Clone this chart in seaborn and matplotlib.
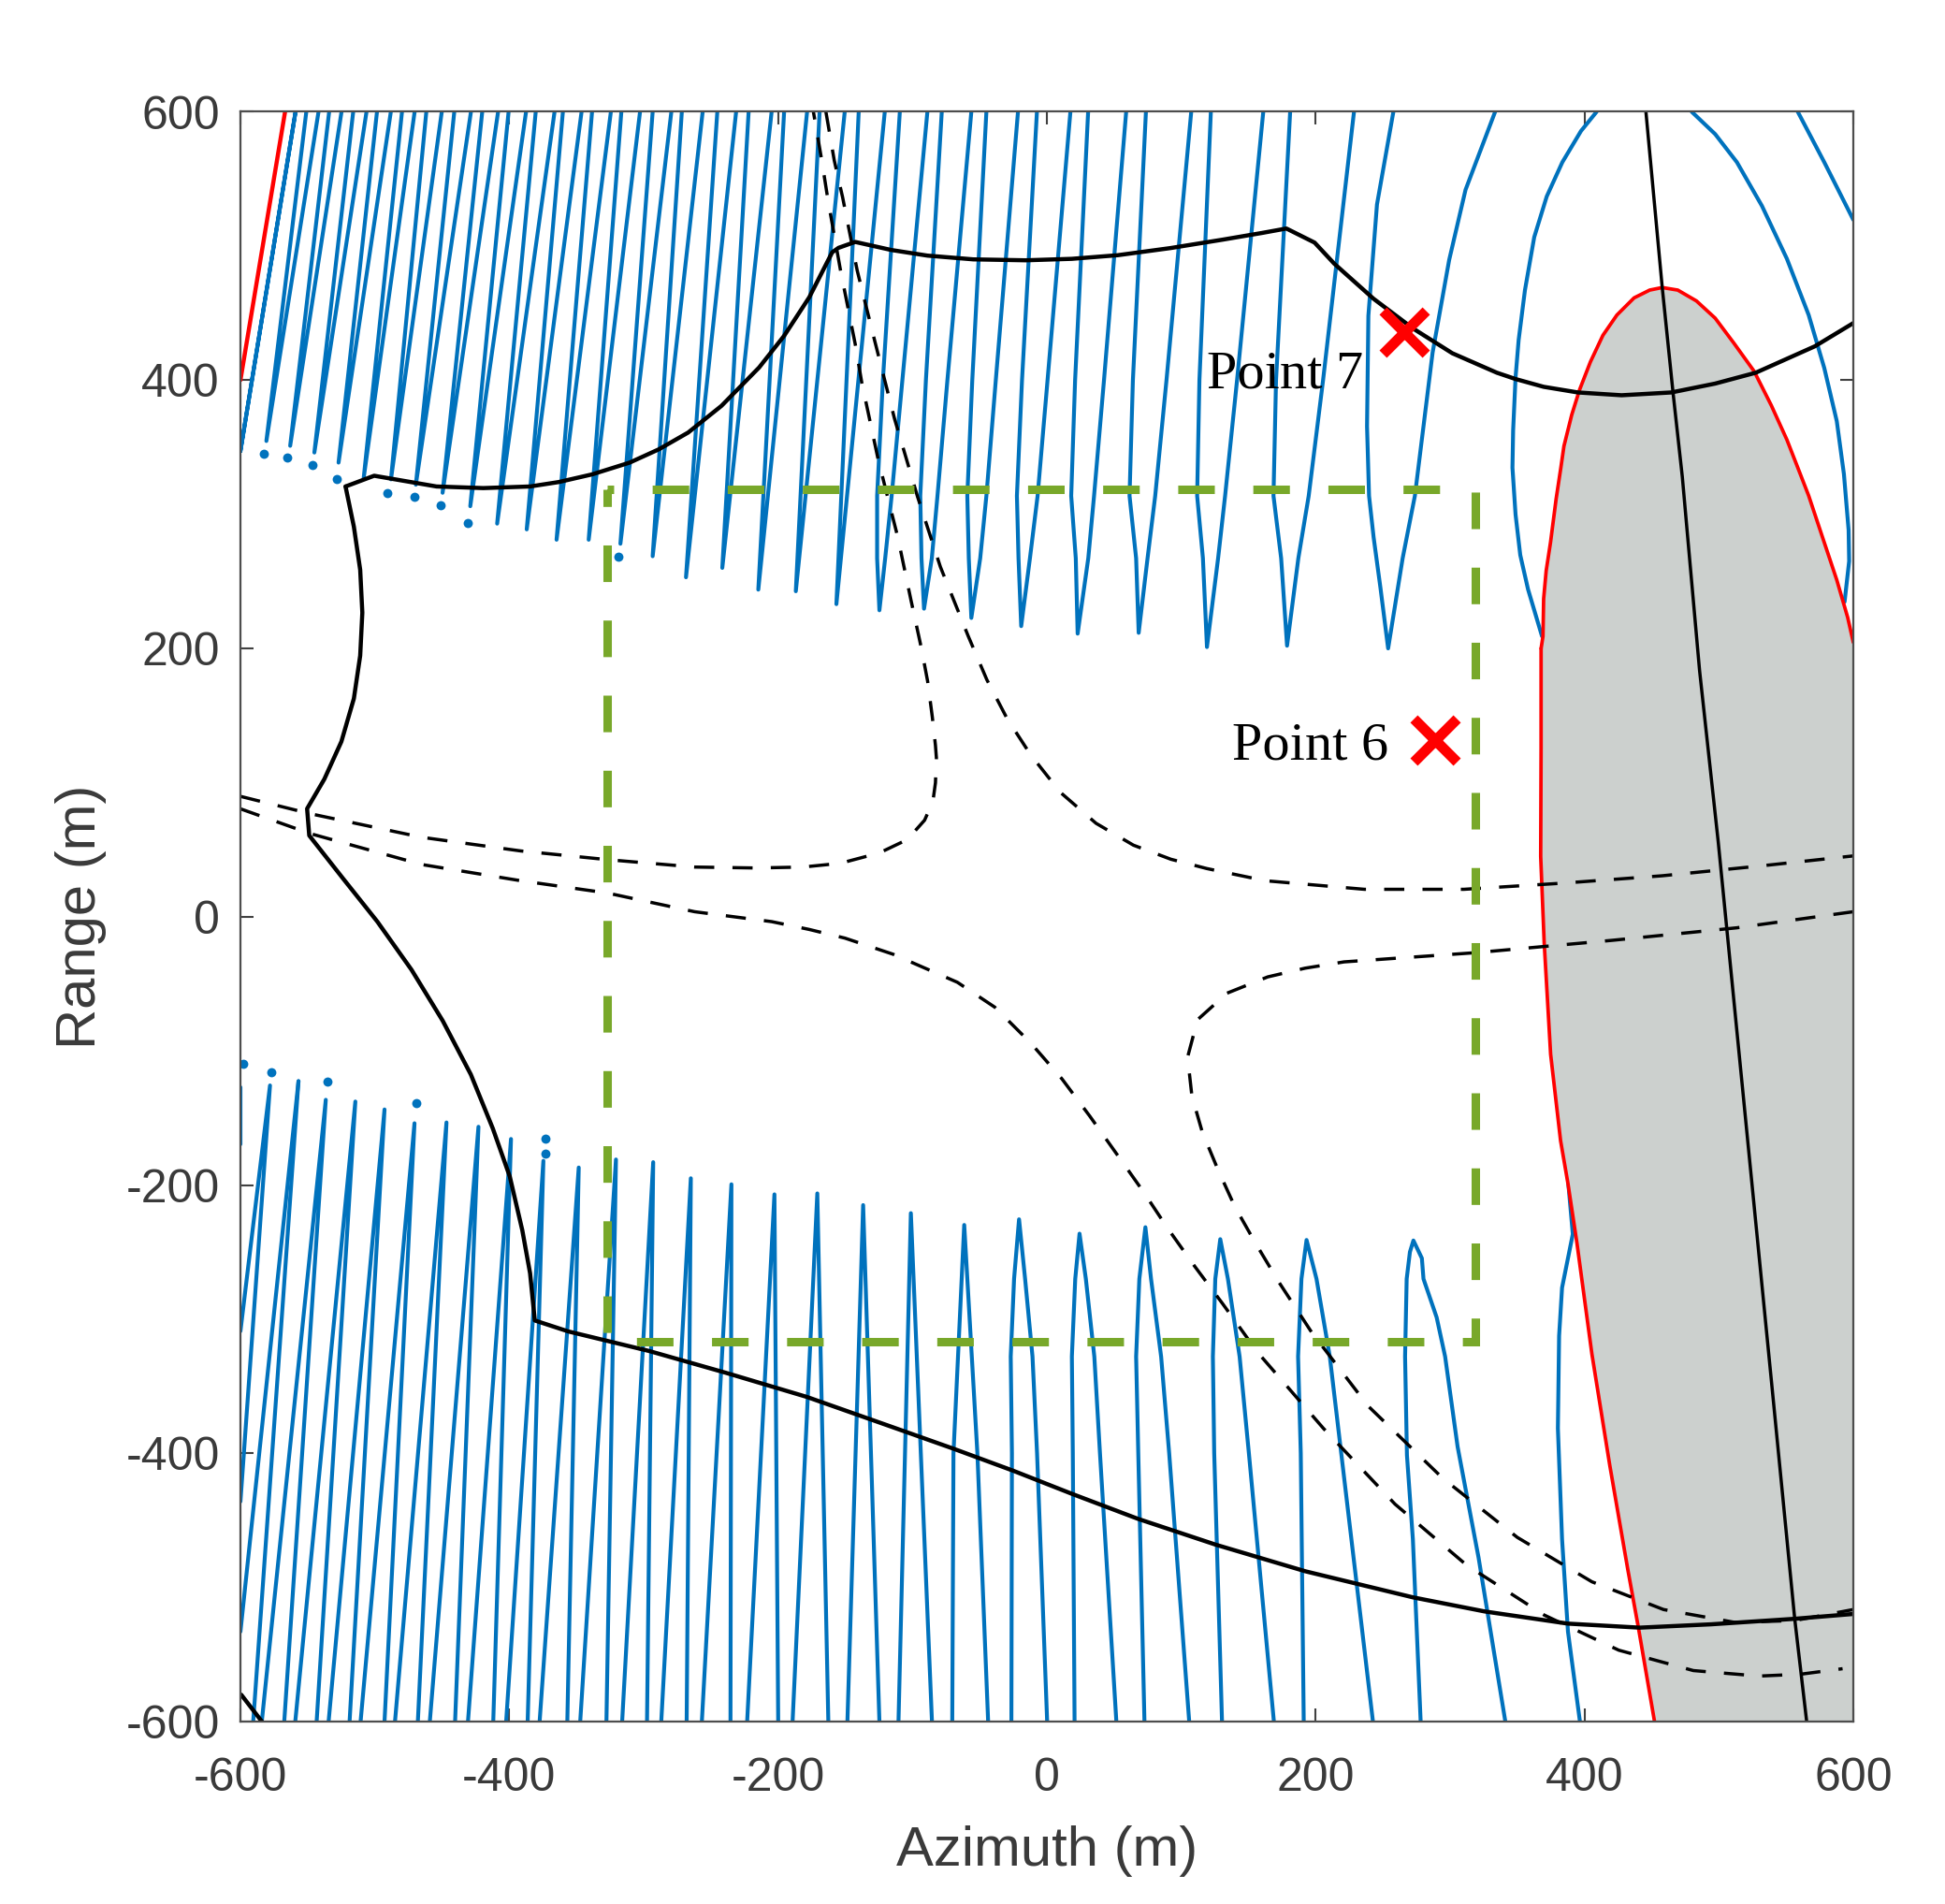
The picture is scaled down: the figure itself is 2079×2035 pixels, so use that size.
import matplotlib
matplotlib.use("Agg")
import matplotlib.pyplot as plt
import pandas as pd
import seaborn as sns

sns.set_style("white")
plt.rcParams['font.family'] = ['Liberation Sans', 'DejaVu Sans']
plt.rcParams['axes.unicode_minus'] = False

BLUE = '#0072BD'
GREEN = '#78A82A'
GREY = '#CCD0CE'
TEXT = '#3a3a3a'

# fringes opening upwards: apex, x at y=267, 314 and 400 (where read), x at y=600
top_apex_x = [-600, -580.7, -563, -545, -527, -508.3, -488, -469.5, -449.6, -429, -409, -387, -364.8, -340.9, -317.3,
              -293.3, -268.5, -241.5, -214.7, -186.8, -156.6, -124.6, -91.4, -56.2, -19.1, 22.9, 68.3, 119.1, 178.7]
top_apex_y = [347, 354.6, 351, 346, 338.5, 327, 326, 322, 316, 306, 293, 288.7, 281, 281, 278,
              268.7, 253, 260, 243.8, 242.6, 233, 228.4, 229.6, 222.7, 216.6, 211, 211.6, 201, 202]
top_left_x = [-559, -551, -534, -516.1, -498.4, -479.8, -461.7, -440.9, -420.1, -400.5, -380.3, -360.1, -338.4, -316.6, -293.3,
              -271.6, -245.2, -221.9, -195.5, -169.1, -140, -109.4, -78.2, -45, -7.4, 30.7, 73.7, 122, 181]
top_right_x = [-559, -541.9, -524.8, -506.2, -488.1, -470.4, -450.2, -428.5, -408.3, -387.5, -366.3, -346.2, -324.4, -302.7, -279.4,
               -256.1, -231.2, -204.8, -178.4, -150.4, -120.6, -88.9, -56.2, -21.5, 17.5, 59, 107.4, 161, 228.5]
top_left_mid = [None] * 21 + [-122, -90, -55.5, -18.5, 21, 64, 113.5, 170.5]
top_right_mid = [None] * 21 + [-107.5, -74, -38, 0.5, 42.5, 89, 141.5, 205.5]
top_left_low = [None] * 21 + [-126.3, -94.2, -59.2, -22.3, 18.1, 61.5, 111.8, 168.6]
top_right_low = [None] * 21 + [-115.5, -81.4, -45, -6.9, 35.1, 80.6, 132.6, 194.8]
top_left_tip = [None] * 21 + [-126.3, -93.3, -58.1, -21.1, 21.5, 66.4, 116.1, 174.3]
top_right_tip = [None] * 21 + [-120.3, -85.6, -49.6, -12.6, 30.8, 74.9, 127.4, 187.1]

# fringes opening downwards: apex, x at y=-270, -328 and -400 (where read), x at y=-600
bot_apex_x = [-556.8, -536.5, -514.5, -492.8, -470.5, -446.7, -422.9, -398.7, -374.6, -348.3, -320.6, -292.9, -264.9,
              -234.7, -202.7, -170.8, -136.7, -101.2, -61.5, -20.7, 24.3, 73.3, 129, 193.2]
bot_apex_y = [-122.6, -136.5, -137.8, -143.7, -154, -153.4, -156.6, -165.7, -182, -187, -181, -183, -195,
              -199.5, -207, -206.3, -215, -221, -229.8, -225.6, -236.3, -231.5, -240.4, -241]
bot_left_x = [None, -584.1, -559.2, -534.4, -510.6, -485, -459.1, -430.7, -402.3, -377.4, -347.2, -316, -286.9,
              -256.7, -223, -189.2, -148.4, -110.4, -70.4, -26.4, 20.6, 72.6, 130.3, 191.1]
bot_right_x = [-590.5, -567.4, -543.3, -518.8, -492.8, -468, -440.3, -411.9, -386.3, -356.8, -327.7, -297.5, -268,
               -235.4, -199.9, -162.6, -124.6, -85.5, -43.7, 0.2, 51.7, 105.9, 168.9, 242.6]
bot_left_mid = [None] * 18 + [-69.5, -26, 19.3, 68, 124.5, 188.9]
bot_right_mid = [None] * 18 + [-51.7, -7.3, 39.5, 91, 150.3, 219]
bot_left_low = [None] * 19 + [-26.9, 18.6, 66.4, 123.5, 186.9]
bot_right_low = [None] * 19 + [-10.7, 35.3, 85, 143.4, 210.5]
bot_left_tip = [None] * 19 + [-24.4, 21.1, 68.8, 125.3, 189.4]
bot_right_tip = [None] * 19 + [-16.2, 29, 77.5, 134.7, 200.6]

# larger curved fringes, read point by point
arc1_x = [257.8, 245.6, 239.2, 238.2, 239.7, 243.1, 248.2, 253.9, 264.7, 273.8, 287, 299.3, 311.5, 333.5]
arc1_y = [600, 530.9, 448, 365.5, 313.7, 282.8, 245, 200, 267.2, 313.7, 420.6, 489.5, 541.9, 600]
arc2_x = [368.4, 358, 352.2, 348.7, 346.4, 346.9, 348.7, 351, 355.7, 362.6, 371.9, 383.5, 397.4, 409]
arc2_y = [209, 244, 269.6, 299.8, 334.7, 362.5, 402, 429.9, 467.1, 506.6, 536.9, 562.4, 585.7, 600]
arc3_x = [479.8, 497.2, 513.4, 532, 550.6, 566.8, 578.4, 587.7, 593, 596.5, 596.9, 593.5]
arc3_y = [600, 583.4, 562.4, 529.9, 490.4, 448.5, 409, 369.4, 330, 288.2, 265, 234.7]
arc4_x = [558.7, 578.4, 600]
arc4_y = [600, 562.4, 519.5]
arc5_x = [278.1, 272.3, 267.9, 266.5, 267.7, 270.1, 272.7, 279, 280.2, 290, 296.3, 305.6, 321.2, 341.1]
arc5_y = [-600, -464, -401.5, -327.9, -270, -250, -241.4, -254.6, -270, -298.7, -327.9, -395.2, -477.9, -600]
arc6_x = [387, 391.3, 383.3, 381.1, 380.2, 383.3, 387.7, 396.6]
arc6_y = [-188, -236.6, -276.6, -312.5, -381.4, -464, -533, -600]
edge1_x = [-600, -578, -600]
edge1_y = [-309, -125.8, -436]
edge2_x = [-600, -556.8]
edge2_y = [-533, -122.6]
edge3_x = [-600, -600]
edge3_y = [-127, -170]

dot_x = [-582.9, -565.2, -546.6, -528.5, -490.6, -470.4, -450.8, -431, -319,
         -597.6, -577, -535.5, -469, -373.2, -373.2]
dot_y = [345.4, 342.2, 336.5, 326.5, 315.6, 312.8, 306.8, 293.6, 268.7,
         -109.6, -116, -122.6, -138.8, -165.4, -176.8]

# grey region outlined in red
red_x = [367.7, 367.7, 367.4, 370, 374.8, 382.2, 387.7, 394.4, 405.5, 418.8, 432.1, 440.1, 452.1]
red_y = [199.9, 125.5, 45, -19.4, -102.6, -167, -199, -243.5, -326, -409, -486, -530, -600]
red_up_x = [367.7, 369.1, 369.6, 371.5, 374.7, 378.9, 382.4, 384.7, 390.5, 396.3, 404.4, 413.7, 424.1, 436.9, 448.5, 457.8,
            469.4, 483.3, 497.2, 511.1, 526.2, 539, 550.6, 558.7, 566.8, 578.4, 587.7, 595.8, 600]
red_up_y = [199.9, 209, 237, 258, 278.9, 311.5, 334.7, 350.8, 374.1, 392.7, 413.6, 433.4, 448.5, 461.3, 467.1, 469,
            467.1, 459, 446.2, 427.6, 406.6, 381.1, 355.5, 334.7, 313.8, 278.9, 251, 223.1, 204.5]
red_corner_x = [-600, -566.8]
red_corner_y = [400, 600]

# solid black contours
upper_x = [-521.8, -500.5, -477.3, -454.1, -419.3, -384.5, -363.2, -338.4, -310.4, -288.7, -266.9, -242.1, -214.1,
           -195.5, -176.8, -159.7, -155, -142.6, -115.8, -88.9, -54.7, -15.7, 18.5, 52.7, 91.8, 130.8, 160.1, 178.2,
           199.2, 213.8, 243.1, 272.4, 301.7, 334.8, 348.7, 369.6, 395, 427.6, 464.7, 497.2, 527.4, 571.4, 600]
upper_y = [320.7, 328.7, 324.7, 320.7, 319.5, 320.7, 324, 329.7, 338.5, 348.4, 360.9, 380.8, 409.4,
           433, 461.7, 495.3, 498.6, 503, 497, 492.8, 490, 489.3, 490.4, 493.1, 498.4, 504.7, 509.7, 513,
           502.5, 486.8, 460.6, 438.5, 420, 405.5, 400.8, 395, 390.8, 388.7, 390.8, 397.4, 405.5, 425.2, 442.5]
lower_x = [-521.8, -515.6, -510.9, -509.3, -510.9, -515.6, -524.9, -537.6, -550.4, -548.8, -523.7, -498.2, -472.7, -449.5,
           -428.6, -412.3, -399.6, -390.3, -384.5, -381, -356, -295.8, -238.9, -178.6, -114.6, -69.5, -25.1, 19.3, 68.1,
           125.8, 192.4, 272.3, 325.6, 387.7, 441, 494.3, 556.4, 600]
lower_y = [320.7, 290.7, 258.6, 226.6, 194.6, 162.6, 130.5, 102.5, 80.5, 60.5, 28.5, -3.6, -39.6, -77.6,
           -117.6, -157.7, -193.7, -233.7, -265.8, -301, -309.2, -323.8, -340, -358, -380.6, -396.6, -413, -430.5, -449,
           -468.2, -488, -507.4, -517.9, -527, -530, -527.5, -523.4, -519.8]
corner_x = [-599.4, -584]
corner_y = [-580, -600]
thin_x = [445.7, 457.8, 465.9, 472.8, 485.6, 499.5, 540.9, 556.4, 565.3]
thin_y = [600, 469.4, 390.4, 327.6, 183.6, 55.7, -364.8, -523.4, -600]

# dashed black curves
dash1_x = [-600, -548.3, -465.2, -391.4, -326.8, -262.1, -216.3, -181.5, -153.7, -124.7, -103.8, -91, -84.8, -82.9, -82.2,
           -82.9, -85.2, -88.7, -93.3, -96.8, -101.1, -110.9, -125.5, -137.8, -142.6, -153.5, -162.8, -167.5, -173.7]
dash1_y = [89.7, 76.8, 59.2, 49, 42.5, 37, 36.3, 37, 39.8, 47.5, 57.5, 71.9, 85.9, 99.8, 118.4,
           127.7, 148.6, 175.4, 199.8, 216, 235.9, 282.8, 340.7, 398.6, 426.9, 481.6, 533.9, 563.8, 600]
dash2_x = [-164.4, -158.2, -152, -141.1, -128, -113.3, -96.2, -79.2, -58.5, -44.6, -29.5, -12.1, 9.9, 36.6, 64.4, 92.3, 118.9,
           162.5, 236.3, 310.2, 384, 457.9, 531.7, 600]
dash2_y = [600, 563.8, 536.4, 481.6, 428.9, 371, 313, 260.7, 209.1, 176.5, 147.5, 120.7, 92.8, 69.6, 53.3, 42.8, 35.9,
           26.8, 20.4, 20.4, 25, 30.5, 37.9, 45.3]
dash3_x = [-600, -548.3, -465.2, -391.4, -326.8, -262.1, -204.7, -176.9, -150.2, -114.4, -66.6, -38.7, -12, 11.2, 32, 51.8,
           71.5, 90, 109.8, 130.6, 156.9, 205.7, 259, 312.3, 370, 425.5, 481, 529.8, 560.9, 592]
dash3_y = [80.4, 62, 38.9, 26.8, 17.6, 3.7, -3.7, -9.5, -16, -28, -48.9, -67.5, -94.2, -120.9, -148.8, -176.7,
           -204.6, -232.5, -260.4, -288.3, -324.9, -381.4, -437.9, -483.4, -520.6, -546.8, -562, -566.1, -564.7, -560.6]
dash4_x = [600, 513.2, 420.9, 319.4, 221.1, 192.1, 164.3, 134.1, 112.1, 104.7, 107.9, 115.6, 127.2, 139.9, 155, 172.4, 196.9, 239,
           294.5, 350, 405.5, 458.8, 512, 556.4, 600]
dash4_y = [3.7, -8.3, -17.6, -26.8, -33.7, -38.4, -44.9, -57, -76.8, -104.7, -133.7, -160.5, -188.4, -216.3, -243, -272.1, -309.7, -364.8,
           -418.6, -462.7, -495.8, -516.5, -526.1, -524.7, -516.5]

box_x = [-326.8, 318.5, 318.5, -326.8, -326.8]
box_y = [318.9, 318.9, -317, -317, 318.9]

point_x = [289, 265.9]
point_y = [131.3, 435.4]
point_labels = ['Point 6', 'Point 7']
label_x = [137.6, 119]
label_y = [117.4, 394]

ticks = [-600, -400, -200, 0, 200, 400, 600]

# one long table for all the blue fringes
rows = []
fid = 0
for ax_, ay_, lt, lm, ll, lp, rp, rl, rm, rt in zip(top_apex_x, top_apex_y, top_left_x, top_left_mid, top_left_low,
                                                    top_left_tip, top_right_tip, top_right_low, top_right_mid,
                                                    top_right_x):
    pts = [(lt, 600), (lm, 400), (ll, 313.7), (lp, 267.2), (ax_, ay_), (rp, 267.2), (rl, 313.7), (rm, 400), (rt, 600)]
    rows += [(fid, p[0], p[1]) for p in pts if p[0] is not None]
    fid += 1
for ax_, ay_, lt, lm, ll, lp, rp, rl, rm, rt in zip(bot_apex_x, bot_apex_y, bot_left_x, bot_left_mid, bot_left_low,
                                                    bot_left_tip, bot_right_tip, bot_right_low, bot_right_mid,
                                                    bot_right_x):
    pts = [(lt, -600), (lm, -400), (ll, -327.9), (lp, -270), (ax_, ay_), (rp, -270), (rl, -327.9), (rm, -400), (rt, -600)]
    rows += [(fid, p[0], p[1]) for p in pts if p[0] is not None]
    fid += 1
for xs, ys in [(arc1_x, arc1_y), (arc2_x, arc2_y), (arc3_x, arc3_y), (arc4_x, arc4_y), (arc5_x, arc5_y),
               (arc6_x, arc6_y), (edge1_x, edge1_y), (edge2_x, edge2_y), (edge3_x, edge3_y)]:
    rows += [(fid, x, y) for x, y in zip(xs, ys)]
    fid += 1
blue_df = pd.DataFrame(rows, columns=['fringe', 'x', 'y'])

fig = plt.figure(figsize=(20.79, 20.35), dpi=100)
ax = fig.add_axes([257 / 2079, 1 - 1840 / 2035, (1981 - 257) / 2079, (1840 - 119.5) / 2035])


def draw(xs, ys, **kws):
    sns.lineplot(x=xs, y=ys, sort=False, estimator=None, ax=ax, legend=False, **kws)


sns.lineplot(data=blue_df, x='x', y='y', units='fringe', estimator=None, sort=False, color=BLUE,
             linewidth=3.0, ax=ax, legend=False, zorder=2)
sns.scatterplot(x=dot_x, y=dot_y, color=BLUE, s=50, linewidth=0, ax=ax, legend=False, zorder=2)

grey_x = red_up_x[::-1] + red_x + [600]
grey_y = red_up_y[::-1] + red_y + [-600]
ax.fill(grey_x, grey_y, color=GREY, lw=0, zorder=3)

draw(red_x, red_y, color='red', linewidth=2.7, zorder=4)
draw(red_up_x, red_up_y, color='red', linewidth=2.7, zorder=4)
draw(red_corner_x, red_corner_y, color='red', linewidth=3.2, zorder=4)

for xs, ys in [(upper_x, upper_y), (lower_x, lower_y), (corner_x, corner_y)]:
    draw(xs, ys, color='black', linewidth=3.2, zorder=5)
draw(thin_x, thin_y, color='black', linewidth=2.5, zorder=5)
for xs, ys in [(dash1_x, dash1_y), (dash2_x, dash2_y), (dash3_x, dash3_y), (dash4_x, dash4_y)]:
    draw(xs, ys, color='black', linewidth=2.5, linestyle=(0, (6.2, 5.6)), zorder=5)

draw(box_x, box_y, color=GREEN, linewidth=6.5, linestyle=(3.56, (4.33, 4.56)), zorder=6,
     dash_capstyle='butt', dash_joinstyle='miter')

sns.scatterplot(x=point_x, y=point_y, marker='x', color='red', s=1100, linewidth=8, ax=ax, legend=False,
                zorder=7, clip_on=False)
for name, x, y in zip(point_labels, label_x, label_y):
    ax.text(x, y, name, family='Liberation Serif', fontsize=42, color='black', ha='left', va='baseline', zorder=8)

ax.set_xlim(-600, 600)
ax.set_ylim(-600, 600)
ax.set_xticks(ticks)
ax.set_yticks(ticks)
ax.tick_params(axis='both', direction='in', length=10, width=1.5, color='#404040', labelcolor=TEXT,
               labelsize=36, left=True, bottom=True, top=True, right=True)
ax.tick_params(axis='x', pad=27)
ax.tick_params(axis='y', pad=16)
for s in ax.spines.values():
    s.set_visible(True)
    s.set_color('#4d4d4d')
    s.set_linewidth(1.6)
    s.set_zorder(9)
ax.set_xlabel('Azimuth (m)', fontsize=43, color=TEXT)
ax.set_ylabel('Range (m)', fontsize=43, color=TEXT)
ax.xaxis.set_label_coords(0.5, -0.0646)
ax.yaxis.set_label_coords(-0.083, 0.5)

fig.savefig('out.png', dpi=100)
